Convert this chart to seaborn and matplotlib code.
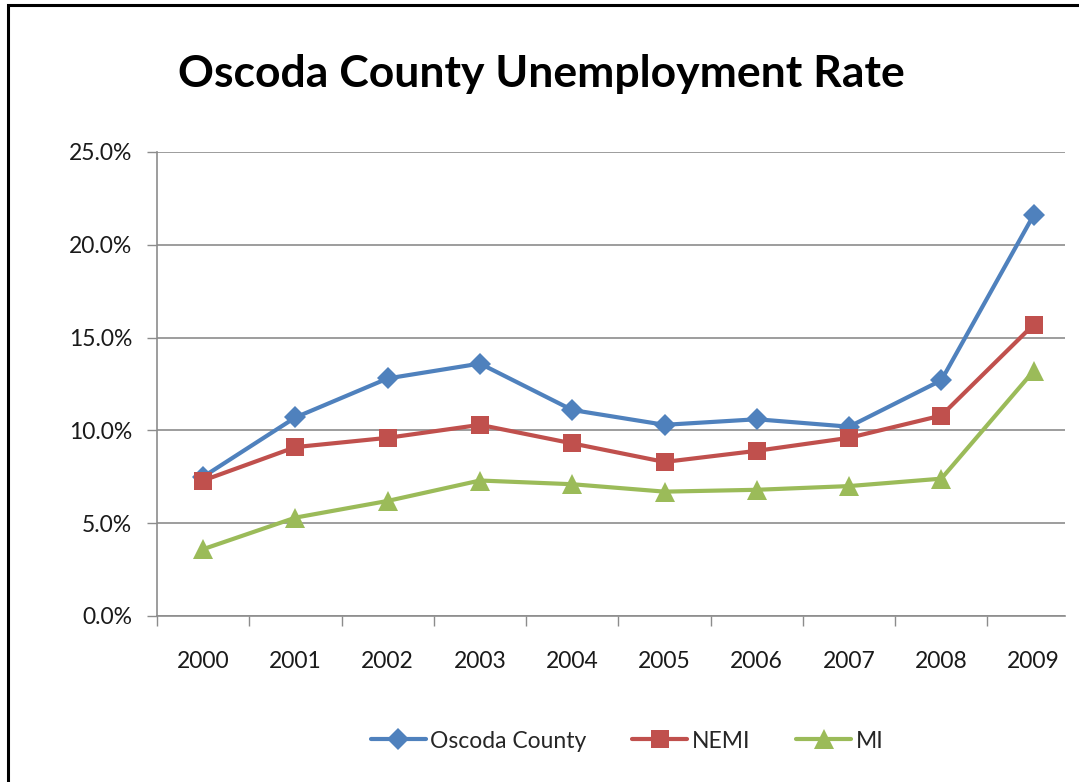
import matplotlib
matplotlib.use("Agg")
import matplotlib.pyplot as plt
from matplotlib.patches import Rectangle
from matplotlib.ticker import FuncFormatter, FixedLocator
import seaborn as sns
import pandas as pd

years = ["2000", "2001", "2002", "2003", "2004", "2005", "2006", "2007", "2008", "2009"]
oscoda = [7.5, 10.7, 12.8, 13.6, 11.1, 10.3, 10.6, 10.2, 12.7, 21.6]
nemi = [7.3, 9.1, 9.6, 10.3, 9.3, 8.3, 8.9, 9.6, 10.8, 15.7]
mi = [3.6, 5.3, 6.2, 7.3, 7.1, 6.7, 6.8, 7.0, 7.4, 13.2]
series_names = ["Oscoda County", "NEMI", "MI"]
y_ticks = [0, 5, 10, 15, 20, 25]

colors = {"Oscoda County": "#4F81BD", "NEMI": "#C0504D", "MI": "#9BBB59"}
markers = {"Oscoda County": "D", "NEMI": "s", "MI": "^"}

rows = []
for name, vals in zip(series_names, [oscoda, nemi, mi]):
    for i, v in enumerate(vals):
        rows.append({"pos": i, "year": years[i], "rate": v, "series": name})
df = pd.DataFrame(rows)

sns.set_theme(style="white")
plt.rcParams["font.family"] = ["Lato", "DejaVu Sans"]

fig = plt.figure(figsize=(10.79, 7.82), dpi=100)
ax = fig.add_axes([157 / 1079, 1 - 616 / 782, (1065 - 157) / 1079, (616 - 152) / 782])

sns.lineplot(data=df, x="pos", y="rate", hue="series", style="series",
             palette=colors, markers=markers, dashes=False, linewidth=3,
             markersize=12, markeredgewidth=0, ax=ax, zorder=3)

# size markers individually
for line in ax.get_lines():
    m = line.get_marker()
    if m == "D":
        line.set_markersize(11)
    elif m == "s":
        line.set_markersize(13)
    elif m == "^":
        line.set_markersize(14)

ax.set_xlim(-0.5, 9.34)
ax.set_ylim(0, 25)
ax.set_xlabel("")
ax.set_ylabel("")

ax.yaxis.set_major_locator(FixedLocator(y_ticks))
ax.yaxis.set_major_formatter(FuncFormatter(lambda v, p: f"{v:.1f}%"))
ax.grid(axis="y", color="#8C8C8C", linewidth=1.2)
ax.grid(axis="x", visible=False)

ax.set_xticks(range(len(years)))
ax.set_xticklabels(years)
ax.set_xticks([i - 0.5 for i in range(len(years))], minor=True)
ax.tick_params(axis="x", which="major", length=0, pad=25, labelsize=16.5, labelcolor="#1a1a1a")
ax.tick_params(axis="x", which="minor", length=7, width=1, color="#8C8C8C", direction="out", bottom=True)
ax.tick_params(axis="y", which="major", length=7, width=1, color="#8C8C8C", direction="out",
               pad=11, labelsize=16.5, labelcolor="#1a1a1a", left=True)

for s in ["top", "right"]:
    ax.spines[s].set_visible(False)
for s in ["left", "bottom"]:
    ax.spines[s].set_color("#8C8C8C")
    ax.spines[s].set_linewidth(1.2)

handles, labels = ax.get_legend_handles_labels()
if ax.legend_:
    ax.legend_.remove()
fig.legend(handles, labels, loc="center", bbox_to_anchor=(627 / 1079, 1 - 741 / 782),
           ncol=3, frameon=False, fontsize=16.5, handlelength=2.4, columnspacing=2.0,
           handletextpad=0.2)

fig.text(178 / 1079, 1 - 74 / 782, "Oscoda County Unemployment Rate", fontsize=32,
         fontweight="bold", ha="left", va="center", color="black")

fig.patches.append(Rectangle((8 / 1079, -0.1), 1.2, 1 - 5 / 782 + 0.1, transform=fig.transFigure,
                             fill=False, edgecolor="black", linewidth=2.2))

fig.savefig("out.png", dpi=100)
